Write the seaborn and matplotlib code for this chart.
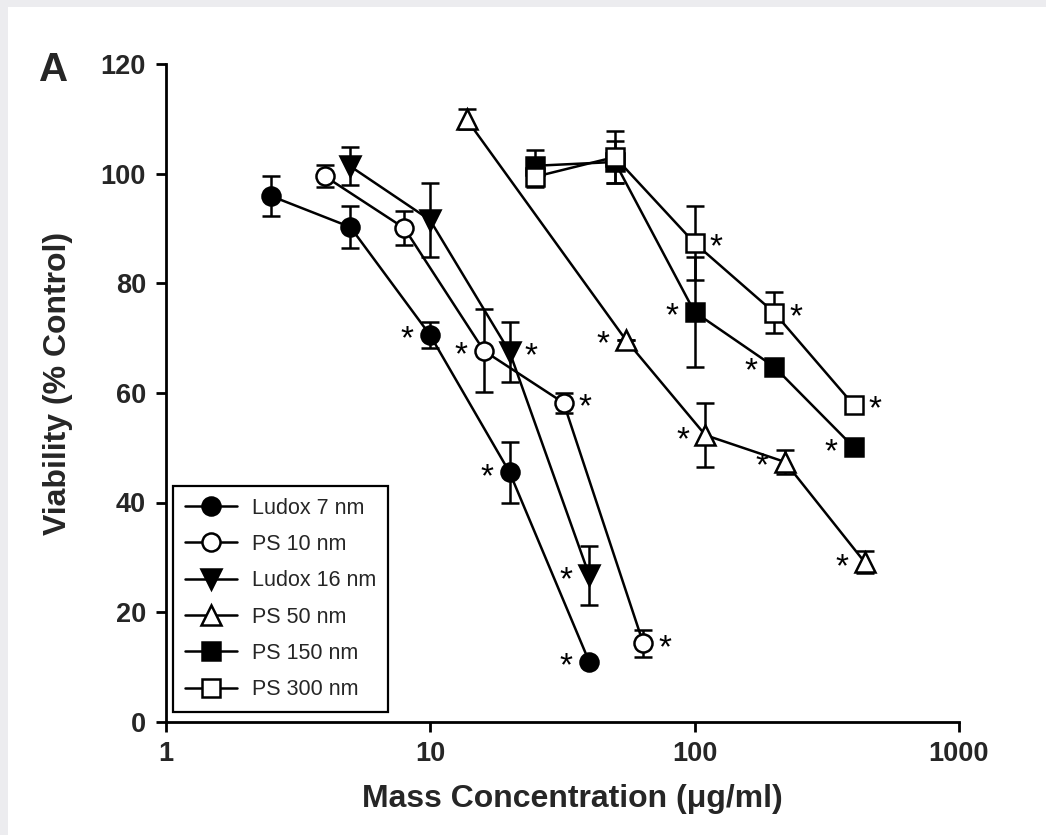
import matplotlib
matplotlib.use("Agg")
import matplotlib.pyplot as plt
import seaborn as sns
import pandas as pd
from matplotlib.patches import Rectangle

# ---- data -------------------------------------------------------------
series_names = ["Ludox 7 nm", "PS 10 nm", "Ludox 16 nm", "PS 50 nm", "PS 150 nm", "PS 300 nm"]

ludox7_conc = [2.5, 5, 10, 20, 40]
ludox7_viab = [96.0, 90.3, 70.6, 45.5, 10.9]
ludox7_err = [3.7, 3.8, 2.4, 5.5, 0.0]
ludox7_sig = ["", "", "left", "left", "left"]

ps10_conc = [4, 8, 16, 32, 64]
ps10_viab = [99.6, 90.1, 67.7, 58.2, 14.3]
ps10_err = [2.0, 3.1, 7.6, 1.8, 2.5]
ps10_sig = ["", "", "left", "right", "right"]

ludox16_conc = [5, 10, 20, 40]
ludox16_viab = [101.4, 91.6, 67.5, 26.7]
ludox16_err = [3.5, 6.7, 5.5, 5.4]
ludox16_sig = ["", "", "right", "left"]

ps50_conc = [13.75, 55, 110, 220, 440]
ps50_viab = [110.0, 69.7, 52.3, 47.4, 29.1]
ps50_err = [1.8, 0.0, 5.9, 2.2, 2.0]
ps50_sig = ["", "left", "left", "left", "left"]

ps150_conc = [25, 50, 100, 200, 400]
ps150_viab = [101.5, 102.2, 74.8, 64.8, 50.1]
ps150_err = [2.9, 3.8, 10.0, 0.0, 0.0]
ps150_sig = ["", "", "left", "left", "left"]

ps300_conc = [25, 50, 100, 200, 400]
ps300_viab = [99.5, 103.1, 87.4, 74.7, 57.8]
ps300_err = [1.8, 4.8, 6.8, 3.7, 0.0]
ps300_sig = ["", "", "right", "right", "right"]

x_ticks = [1, 10, 100, 1000]
x_ticklabels = ["1", "10", "100", "1000"]
y_ticks = [0, 20, 40, 60, 80, 100, 120]

series_conc = [ludox7_conc, ps10_conc, ludox16_conc, ps50_conc, ps150_conc, ps300_conc]
series_viab = [ludox7_viab, ps10_viab, ludox16_viab, ps50_viab, ps150_viab, ps300_viab]
series_err = [ludox7_err, ps10_err, ludox16_err, ps50_err, ps150_err, ps300_err]
series_sig = [ludox7_sig, ps10_sig, ludox16_sig, ps50_sig, ps150_sig, ps300_sig]

# marker shape, filled?, marker size
marker_styles = [("o", True, 13), ("o", False, 13), ("v", True, 14),
                 ("^", False, 14), ("s", True, 12.5), ("s", False, 12.5)]

# ---- style --------------------------------------------------------------
sns.set_style("ticks")
plt.rcParams["font.family"] = ["Liberation Sans", "DejaVu Sans"]

W, H, DPI = 1046, 835, 100
fig = plt.figure(figsize=(W / DPI, H / DPI), dpi=DPI)
fig.patch.set_facecolor("#ececef")
fig.add_artist(Rectangle((8 / W, 0), 1, 1 - 7 / H, transform=fig.transFigure,
                         facecolor="white", edgecolor="none", zorder=-10))

ax = fig.add_axes([165.5 / W, 1 - 721.5 / H, 793.5 / W, 657 / H])
ax.set_facecolor("white")

lw = 1.8
for name, xs, ys, es, sig, (mk, filled, ms) in zip(
        series_names, series_conc, series_viab, series_err, series_sig, marker_styles):
    df = pd.DataFrame({"conc": xs, "viab": ys})
    ax.errorbar(xs, ys, yerr=es, fmt="none", ecolor="black", elinewidth=lw,
                capsize=6.5, capthick=lw, zorder=1.5)
    sns.lineplot(data=df, x="conc", y="viab", ax=ax, color="black", linewidth=lw,
                 marker=mk, markersize=ms, markeredgewidth=lw,
                 markeredgecolor="black",
                 markerfacecolor="black" if filled else "white",
                 label=name, zorder=2, sort=False)
    # significance asterisks beside the flagged points
    for xv, yv, side in zip(xs, ys, sig):
        if not side:
            continue
        dx = -16.5 if side == "left" else 15.5
        ax.annotate("*", xy=(xv, yv), xytext=(dx, -9.8), textcoords="offset points",
                    ha="center", va="baseline", fontsize=24, color="black")

ax.set_xscale("log")
ax.set_xlim(1, 1000)
ax.set_ylim(0, 120)
ax.set_xticks(x_ticks)
ax.set_xticklabels(x_ticklabels)
ax.xaxis.set_minor_locator(matplotlib.ticker.NullLocator())
ax.set_yticks(y_ticks)

for side in ["top", "right"]:
    ax.spines[side].set_visible(False)
for side in ["left", "bottom"]:
    ax.spines[side].set_linewidth(2.0)
    ax.spines[side].set_color("black")

ax.tick_params(axis="both", which="major", direction="out", length=7, width=2.0,
               color="black", labelsize=19.5, pad=7)
for lab in ax.get_xticklabels() + ax.get_yticklabels():
    lab.set_fontweight("bold")

ax.set_xlabel("Mass Concentration (\u03bcg/ml)", fontsize=23, fontweight="bold")
ax.set_ylabel("Viability (% Control)", fontsize=23, fontweight="bold")
ax.xaxis.set_label_coords(0.513, -0.095)
ax.yaxis.set_label_coords(-0.117, 0.514)

leg = ax.legend(loc="lower left", bbox_to_anchor=(0.0095, 0.0145), borderaxespad=0,
                frameon=True, fancybox=False, edgecolor="black", framealpha=1,
                fontsize=15.5, handlelength=2.4, handletextpad=0.7,
                labelspacing=0.71, borderpad=0.55)
leg.get_frame().set_linewidth(1.6)

fig.text(54 / W, 1 - 70 / H, "A", fontsize=29, fontweight="bold",
         ha="center", va="center")

fig.savefig("out.png", dpi=DPI, facecolor=fig.get_facecolor())
